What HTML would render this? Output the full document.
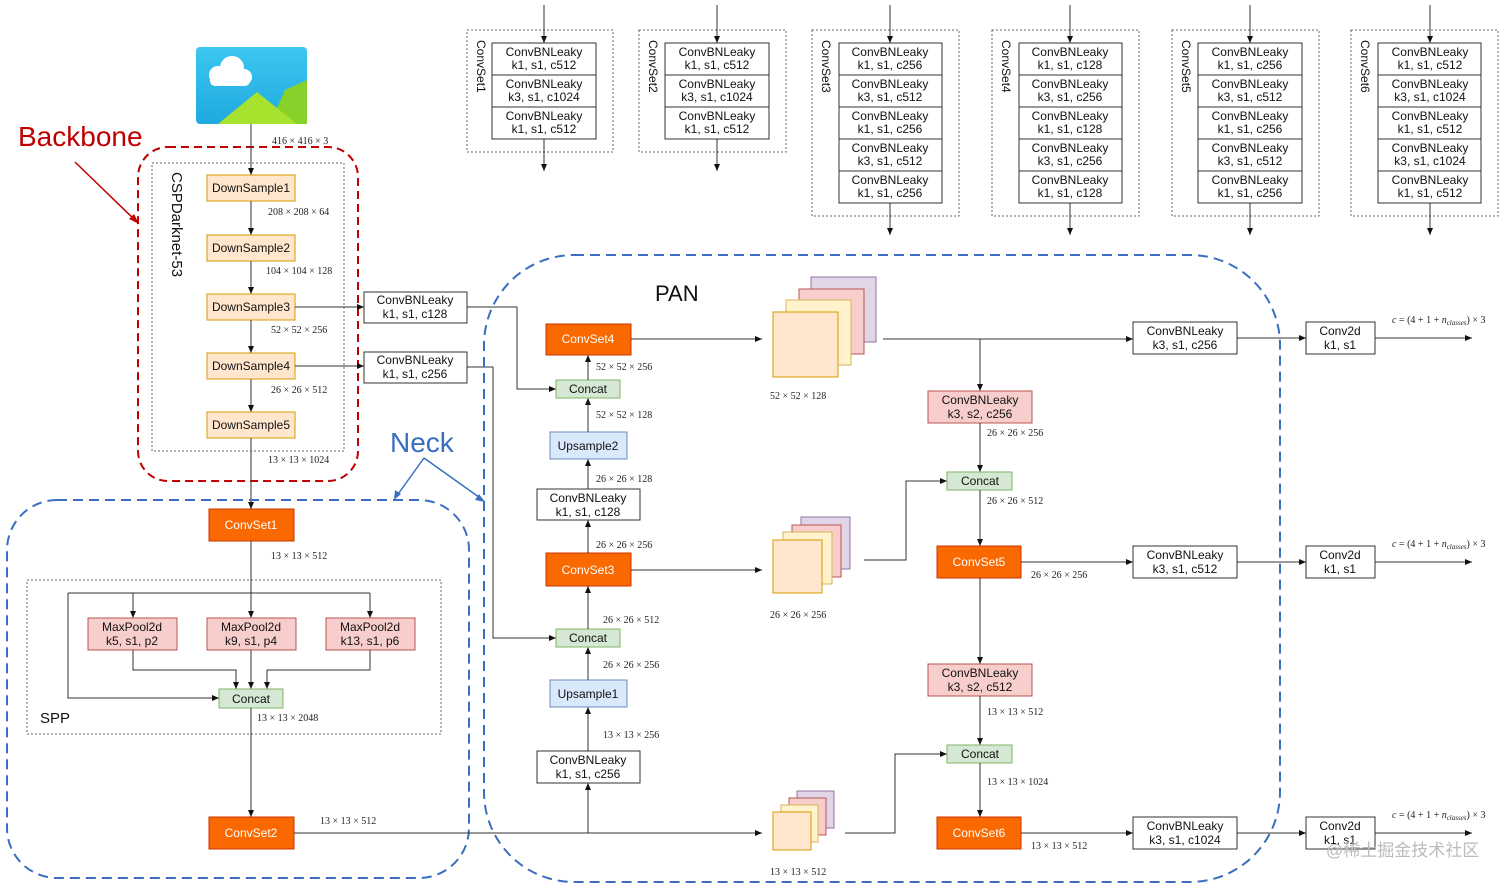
<!DOCTYPE html>
<html><head><meta charset="utf-8"><style>
html,body{margin:0;padding:0;background:#fff;}
svg{display:block;}
.t{font-family:"Liberation Sans",sans-serif;font-size:12px;fill:#111;text-anchor:middle;}
.w{font-family:"Liberation Sans",sans-serif;font-size:12px;fill:#fff;text-anchor:middle;}
.d{font-family:"Liberation Serif",serif;font-size:10px;fill:#222;}
.ln{stroke:#333;stroke-width:1;fill:none;}
.ds{fill:#ffe6cc;stroke:#d79b00;}
.cs{fill:#fa6800;stroke:#c73500;}
.mp{fill:#f8cecc;stroke:#b85450;}
.cc{fill:#d5e8d4;stroke:#82b366;}
.up{fill:#dae8fc;stroke:#6c8ebf;}
.bx{fill:#fff;stroke:#333;}
.dot{fill:none;stroke:#666;stroke-dasharray:2 2;}
</style></head><body>
<svg width="1512" height="884" viewBox="0 0 1512 884" xmlns="http://www.w3.org/2000/svg">
<defs>
<marker id="a" markerWidth="8" markerHeight="8" refX="7" refY="4" orient="auto" markerUnits="userSpaceOnUse"><path d="M0,1 L7,4 L0,7 z" fill="#111"/></marker>
<linearGradient id="sky" x1="0" y1="0" x2="0" y2="1"><stop offset="0" stop-color="#3cc8f0"/><stop offset="1" stop-color="#1fa9e0"/></linearGradient>
</defs>

<!-- image icon -->
<rect x="196" y="47" width="111" height="77" rx="4" fill="url(#sky)"/>
<path d="M270,124 L285,90 L307,80 L307,124 z" fill="#86d12a"/>
<path d="M218,124 L257,92 L297,124 z" fill="#a6e22e"/>
<circle cx="218" cy="75" r="9" fill="#fff"/><circle cx="232" cy="68" r="12" fill="#fff"/><circle cx="244" cy="77" r="8" fill="#fff"/>
<rect x="210" y="75" width="40" height="11" rx="5" fill="#fff"/>

<!-- Backbone -->
<text x="18" y="146" style="font-family:'Liberation Sans',sans-serif;font-size:28px;fill:#c00000">Backbone</text>
<line x1="75" y1="162" x2="137" y2="222" stroke="#c00000" stroke-width="1.5"/>
<path d="M139,224 L129,219 L134,214 z" fill="#c00000"/>
<rect x="138" y="147" width="220" height="334" rx="30" fill="none" stroke="#c00000" stroke-width="2" stroke-dasharray="8 5"/>
<rect x="152" y="163" width="192" height="288" class="dot"/>
<text transform="translate(172,172) rotate(90)" style="font-family:'Liberation Sans',sans-serif;font-size:15px;fill:#111">CSPDarknet-53</text>

<line x1="251" y1="124" x2="251" y2="175" class="ln" marker-end="url(#a)"/>
<text x="272" y="144" class="d">416 × 416 × 3</text>
<rect x="207" y="175" width="88" height="26" class="ds"/><text x="251" y="192" class="t">DownSample1</text>
<line x1="251" y1="201" x2="251" y2="235" class="ln" marker-end="url(#a)"/>
<text x="268" y="215" class="d">208 × 208 × 64</text>
<rect x="207" y="235" width="88" height="26" class="ds"/><text x="251" y="252" class="t">DownSample2</text>
<line x1="251" y1="261" x2="251" y2="294" class="ln" marker-end="url(#a)"/>
<text x="266" y="274" class="d">104 × 104 × 128</text>
<rect x="207" y="294" width="88" height="26" class="ds"/><text x="251" y="311" class="t">DownSample3</text>
<line x1="251" y1="320" x2="251" y2="353" class="ln" marker-end="url(#a)"/>
<text x="271" y="333" class="d">52 × 52 × 256</text>
<rect x="207" y="353" width="88" height="26" class="ds"/><text x="251" y="370" class="t">DownSample4</text>
<line x1="251" y1="379" x2="251" y2="412" class="ln" marker-end="url(#a)"/>
<text x="271" y="393" class="d">26 × 26 × 512</text>
<rect x="207" y="412" width="88" height="26" class="ds"/><text x="251" y="429" class="t">DownSample5</text>
<line x1="251" y1="438" x2="251" y2="509" class="ln" marker-end="url(#a)"/>
<text x="268" y="463" class="d">13 × 13 × 1024</text>

<line x1="295" y1="307" x2="364" y2="307" class="ln" marker-end="url(#a)"/>
<line x1="295" y1="366" x2="364" y2="366" class="ln" marker-end="url(#a)"/>
<rect x="364" y="292" width="103" height="31" class="bx"/><text x="415" y="304" class="t">ConvBNLeaky</text><text x="415" y="318" class="t">k1, s1, c128</text>
<rect x="364" y="352" width="103" height="31" class="bx"/><text x="415" y="364" class="t">ConvBNLeaky</text><text x="415" y="378" class="t">k1, s1, c256</text>
<polyline points="467,307 517,307 517,389 556,389" class="ln" marker-end="url(#a)"/>
<polyline points="467,367 493,367 493,638 556,638" class="ln" marker-end="url(#a)"/>

<!-- Neck -->
<text x="390" y="452" style="font-family:'Liberation Sans',sans-serif;font-size:28px;fill:#3a6fc0">Neck</text>
<line x1="424" y1="458" x2="396" y2="497" stroke="#3a6fc0" stroke-width="1.5"/>
<line x1="424" y1="458" x2="483" y2="500" stroke="#3a6fc0" stroke-width="1.5"/>
<path d="M394,500 L395,490 L401,494 z" fill="#3a6fc0"/>
<path d="M485,502 L475,500 L479,494 z" fill="#3a6fc0"/>
<rect x="7" y="500" width="462" height="378" rx="50" fill="none" stroke="#3a6fc0" stroke-width="2" stroke-dasharray="10 6"/>
<rect x="484" y="255" width="796" height="627" rx="90" fill="none" stroke="#3a6fc0" stroke-width="2" stroke-dasharray="10 6"/>
<text x="655" y="301" style="font-family:'Liberation Sans',sans-serif;font-size:22px;fill:#111">PAN</text>

<!-- SPP -->
<rect x="209" y="509" width="85" height="32" class="cs"/><text x="251" y="529" class="w">ConvSet1</text>
<text x="271" y="559" class="d">13 × 13 × 512</text>
<rect x="27" y="580" width="414" height="154" class="dot"/>
<text x="40" y="723" style="font-family:'Liberation Sans',sans-serif;font-size:15px;fill:#111">SPP</text>
<line x1="251" y1="541" x2="251" y2="618" class="ln" marker-end="url(#a)"/>
<polyline points="68,593 370,593" class="ln"/>
<line x1="133" y1="593" x2="133" y2="618" class="ln" marker-end="url(#a)"/>
<line x1="370" y1="593" x2="370" y2="618" class="ln" marker-end="url(#a)"/>
<polyline points="68,593 68,698 219,698" class="ln" marker-end="url(#a)"/>
<rect x="88" y="618" width="89" height="32" class="mp"/><text x="132" y="631" class="t">MaxPool2d</text><text x="132" y="645" class="t">k5, s1, p2</text>
<rect x="207" y="618" width="89" height="32" class="mp"/><text x="251" y="631" class="t">MaxPool2d</text><text x="251" y="645" class="t">k9, s1, p4</text>
<rect x="326" y="618" width="89" height="32" class="mp"/><text x="370" y="631" class="t">MaxPool2d</text><text x="370" y="645" class="t">k13, s1, p6</text>
<polyline points="133,650 133,670 236,670 236,689" class="ln" marker-end="url(#a)"/>
<polyline points="370,650 370,670 267,670 267,689" class="ln" marker-end="url(#a)"/>
<line x1="251" y1="650" x2="251" y2="689" class="ln" marker-end="url(#a)"/>
<rect x="219" y="689" width="64" height="19" class="cc"/><text x="251" y="703" class="t">Concat</text>
<text x="257" y="721" class="d">13 × 13 × 2048</text>
<line x1="251" y1="708" x2="251" y2="817" class="ln" marker-end="url(#a)"/>
<rect x="209" y="817" width="85" height="32" class="cs"/><text x="251" y="837" class="w">ConvSet2</text>
<text x="320" y="824" class="d">13 × 13 × 512</text>
<line x1="294" y1="833" x2="762" y2="833" class="ln" marker-end="url(#a)"/>

<!-- PAN column -->
<line x1="588" y1="833" x2="588" y2="783" class="ln" marker-end="url(#a)"/>
<rect x="537" y="751" width="103" height="32" class="bx"/><text x="588" y="764" class="t">ConvBNLeaky</text><text x="588" y="778" class="t">k1, s1, c256</text>
<text x="603" y="738" class="d">13 × 13 × 256</text>
<line x1="588" y1="751" x2="588" y2="707" class="ln" marker-end="url(#a)"/>
<rect x="550" y="680" width="77" height="27" class="up"/><text x="588" y="698" class="t">Upsample1</text>
<text x="603" y="668" class="d">26 × 26 × 256</text>
<line x1="588" y1="680" x2="588" y2="647" class="ln" marker-end="url(#a)"/>
<rect x="556" y="629" width="64" height="18" class="cc"/><text x="588" y="642" class="t">Concat</text>
<text x="603" y="623" class="d">26 × 26 × 512</text>
<line x1="588" y1="629" x2="588" y2="586" class="ln" marker-end="url(#a)"/>
<rect x="546" y="553" width="85" height="33" class="cs"/><text x="588" y="574" class="w">ConvSet3</text>
<line x1="631" y1="570" x2="762" y2="570" class="ln" marker-end="url(#a)"/>
<text x="596" y="548" class="d">26 × 26 × 256</text>
<line x1="588" y1="553" x2="588" y2="520" class="ln" marker-end="url(#a)"/>
<rect x="537" y="489" width="103" height="31" class="bx"/><text x="588" y="502" class="t">ConvBNLeaky</text><text x="588" y="516" class="t">k1, s1, c128</text>
<text x="596" y="482" class="d">26 × 26 × 128</text>
<line x1="588" y1="489" x2="588" y2="459" class="ln" marker-end="url(#a)"/>
<rect x="550" y="432" width="77" height="27" class="up"/><text x="588" y="450" class="t">Upsample2</text>
<text x="596" y="418" class="d">52 × 52 × 128</text>
<line x1="588" y1="432" x2="588" y2="398" class="ln" marker-end="url(#a)"/>
<rect x="556" y="380" width="64" height="18" class="cc"/><text x="588" y="393" class="t">Concat</text>
<text x="596" y="370" class="d">52 × 52 × 256</text>
<line x1="588" y1="380" x2="588" y2="355" class="ln" marker-end="url(#a)"/>
<rect x="546" y="324" width="85" height="31" class="cs"/><text x="588" y="343" class="w">ConvSet4</text>
<line x1="631" y1="339" x2="762" y2="339" class="ln" marker-end="url(#a)"/>

<!-- feature stacks -->
<g stroke-width="1">
<rect x="811" y="277" width="65" height="65" fill="#e1d5e7" stroke="#9673a6"/>
<rect x="799" y="289" width="65" height="65" fill="#f8cecc" stroke="#b85450"/>
<rect x="786" y="300" width="65" height="65" fill="#fff2cc" stroke="#d6b656"/>
<rect x="773" y="312" width="65" height="65" fill="#ffe6cc" stroke="#d79b00"/>
<rect x="801" y="517" width="49" height="52" fill="#e1d5e7" stroke="#9673a6"/>
<rect x="792" y="525" width="49" height="52" fill="#f8cecc" stroke="#b85450"/>
<rect x="783" y="532" width="49" height="52" fill="#fff2cc" stroke="#d6b656"/>
<rect x="773" y="540" width="49" height="53" fill="#ffe6cc" stroke="#d79b00"/>
<rect x="797" y="791" width="37" height="37" fill="#e1d5e7" stroke="#9673a6"/>
<rect x="789" y="798" width="37" height="37" fill="#f8cecc" stroke="#b85450"/>
<rect x="781" y="805" width="37" height="37" fill="#fff2cc" stroke="#d6b656"/>
<rect x="773" y="812" width="38" height="38" fill="#ffe6cc" stroke="#d79b00"/>
</g>
<text x="770" y="399" class="d">52 × 52 × 128</text>
<text x="770" y="618" class="d">26 × 26 × 256</text>
<text x="770" y="875" class="d">13 × 13 × 512</text>

<!-- right PAN column -->
<line x1="883" y1="339" x2="1133" y2="339" class="ln" marker-end="url(#a)"/>
<line x1="980" y1="339" x2="980" y2="391" class="ln" marker-end="url(#a)"/>
<rect x="928" y="391" width="104" height="32" class="mp"/><text x="980" y="404" class="t">ConvBNLeaky</text><text x="980" y="418" class="t">k3, s2, c256</text>
<text x="987" y="436" class="d">26 × 26 × 256</text>
<line x1="980" y1="423" x2="980" y2="472" class="ln" marker-end="url(#a)"/>
<polyline points="864,560 906,560 906,481 947,481" class="ln" marker-end="url(#a)"/>
<rect x="947" y="472" width="65" height="18" class="cc"/><text x="980" y="485" class="t">Concat</text>
<text x="987" y="504" class="d">26 × 26 × 512</text>
<line x1="980" y1="490" x2="980" y2="546" class="ln" marker-end="url(#a)"/>
<rect x="937" y="546" width="84" height="32" class="cs"/><text x="979" y="566" class="w">ConvSet5</text>
<line x1="1021" y1="562" x2="1133" y2="562" class="ln" marker-end="url(#a)"/>
<text x="1031" y="578" class="d">26 × 26 × 256</text>
<line x1="980" y1="578" x2="980" y2="664" class="ln" marker-end="url(#a)"/>
<rect x="928" y="664" width="104" height="32" class="mp"/><text x="980" y="677" class="t">ConvBNLeaky</text><text x="980" y="691" class="t">k3, s2, c512</text>
<text x="987" y="715" class="d">13 × 13 × 512</text>
<line x1="980" y1="696" x2="980" y2="745" class="ln" marker-end="url(#a)"/>
<polyline points="845,833 895,833 895,754 947,754" class="ln" marker-end="url(#a)"/>
<rect x="947" y="745" width="65" height="18" class="cc"/><text x="980" y="758" class="t">Concat</text>
<text x="987" y="785" class="d">13 × 13 × 1024</text>
<line x1="980" y1="763" x2="980" y2="817" class="ln" marker-end="url(#a)"/>
<rect x="937" y="817" width="84" height="32" class="cs"/><text x="979" y="837" class="w">ConvSet6</text>
<line x1="1021" y1="833" x2="1133" y2="833" class="ln" marker-end="url(#a)"/>
<text x="1031" y="849" class="d">13 × 13 × 512</text>

<!-- heads -->
<g>
<rect x="1133" y="322" width="104" height="32" class="bx"/><text x="1185" y="335" class="t">ConvBNLeaky</text><text x="1185" y="349" class="t">k3, s1, c256</text>
<rect x="1133" y="546" width="104" height="32" class="bx"/><text x="1185" y="559" class="t">ConvBNLeaky</text><text x="1185" y="573" class="t">k3, s1, c512</text>
<rect x="1133" y="817" width="104" height="32" class="bx"/><text x="1185" y="830" class="t">ConvBNLeaky</text><text x="1185" y="844" class="t">k3, s1, c1024</text>
<line x1="1237" y1="338" x2="1306" y2="338" class="ln" marker-end="url(#a)"/>
<line x1="1237" y1="562" x2="1306" y2="562" class="ln" marker-end="url(#a)"/>
<line x1="1237" y1="833" x2="1306" y2="833" class="ln" marker-end="url(#a)"/>
<rect x="1306" y="322" width="69" height="32" class="bx"/><text x="1340" y="335" class="t">Conv2d</text><text x="1340" y="349" class="t">k1, s1</text>
<rect x="1306" y="546" width="69" height="32" class="bx"/><text x="1340" y="559" class="t">Conv2d</text><text x="1340" y="573" class="t">k1, s1</text>
<rect x="1306" y="817" width="69" height="32" class="bx"/><text x="1340" y="830" class="t">Conv2d</text><text x="1340" y="844" class="t">k1, s1</text>
<line x1="1375" y1="338" x2="1472" y2="338" class="ln" marker-end="url(#a)"/>
<line x1="1375" y1="562" x2="1472" y2="562" class="ln" marker-end="url(#a)"/>
<line x1="1375" y1="833" x2="1472" y2="833" class="ln" marker-end="url(#a)"/>
<text x="1392" y="323" class="d"><tspan font-style="italic">c</tspan> = (4 + 1 + <tspan font-style="italic">n</tspan><tspan font-size="7" dy="2" font-style="italic">classes</tspan><tspan dy="-2">) × 3</tspan></text>
<text x="1392" y="547" class="d"><tspan font-style="italic">c</tspan> = (4 + 1 + <tspan font-style="italic">n</tspan><tspan font-size="7" dy="2" font-style="italic">classes</tspan><tspan dy="-2">) × 3</tspan></text>
<text x="1392" y="818" class="d"><tspan font-style="italic">c</tspan> = (4 + 1 + <tspan font-style="italic">n</tspan><tspan font-size="7" dy="2" font-style="italic">classes</tspan><tspan dy="-2">) × 3</tspan></text>
</g>

<!-- top ConvSets -->
<g>
<!-- CS1 -->
<rect x="467" y="30" width="146" height="122" class="dot"/>
<text transform="translate(477,40) rotate(90)" style="font-family:'Liberation Sans',sans-serif;font-size:12px;fill:#111">ConvSet1</text>
<line x1="544" y1="5" x2="544" y2="43" class="ln" marker-end="url(#a)"/>
<rect x="492" y="43" width="104" height="96" class="bx"/>
<line x1="492" y1="75" x2="596" y2="75" class="ln"/><line x1="492" y1="107" x2="596" y2="107" class="ln"/>
<text x="544" y="56" class="t">ConvBNLeaky</text><text x="544" y="69" class="t">k1, s1, c512</text>
<text x="544" y="88" class="t">ConvBNLeaky</text><text x="544" y="101" class="t">k3, s1, c1024</text>
<text x="544" y="120" class="t">ConvBNLeaky</text><text x="544" y="133" class="t">k1, s1, c512</text>
<line x1="544" y1="139" x2="544" y2="171" class="ln" marker-end="url(#a)"/>
<!-- CS2 -->
<rect x="639" y="30" width="147" height="122" class="dot"/>
<text transform="translate(649,40) rotate(90)" style="font-family:'Liberation Sans',sans-serif;font-size:12px;fill:#111">ConvSet2</text>
<line x1="717" y1="5" x2="717" y2="43" class="ln" marker-end="url(#a)"/>
<rect x="665" y="43" width="104" height="96" class="bx"/>
<line x1="665" y1="75" x2="769" y2="75" class="ln"/><line x1="665" y1="107" x2="769" y2="107" class="ln"/>
<text x="717" y="56" class="t">ConvBNLeaky</text><text x="717" y="69" class="t">k1, s1, c512</text>
<text x="717" y="88" class="t">ConvBNLeaky</text><text x="717" y="101" class="t">k3, s1, c1024</text>
<text x="717" y="120" class="t">ConvBNLeaky</text><text x="717" y="133" class="t">k1, s1, c512</text>
<line x1="717" y1="139" x2="717" y2="171" class="ln" marker-end="url(#a)"/>
<!-- CS3 -->
<rect x="812" y="30" width="147" height="186" class="dot"/>
<text transform="translate(822,40) rotate(90)" style="font-family:'Liberation Sans',sans-serif;font-size:12px;fill:#111">ConvSet3</text>
<line x1="890" y1="5" x2="890" y2="43" class="ln" marker-end="url(#a)"/>
<rect x="839" y="43" width="103" height="160" class="bx"/>
<line x1="839" y1="75" x2="942" y2="75" class="ln"/><line x1="839" y1="107" x2="942" y2="107" class="ln"/><line x1="839" y1="139" x2="942" y2="139" class="ln"/><line x1="839" y1="171" x2="942" y2="171" class="ln"/>
<text x="890" y="56" class="t">ConvBNLeaky</text><text x="890" y="69" class="t">k1, s1, c256</text>
<text x="890" y="88" class="t">ConvBNLeaky</text><text x="890" y="101" class="t">k3, s1, c512</text>
<text x="890" y="120" class="t">ConvBNLeaky</text><text x="890" y="133" class="t">k1, s1, c256</text>
<text x="890" y="152" class="t">ConvBNLeaky</text><text x="890" y="165" class="t">k3, s1, c512</text>
<text x="890" y="184" class="t">ConvBNLeaky</text><text x="890" y="197" class="t">k1, s1, c256</text>
<line x1="890" y1="203" x2="890" y2="235" class="ln" marker-end="url(#a)"/>
<!-- CS4 -->
<rect x="992" y="30" width="147" height="186" class="dot"/>
<text transform="translate(1002,40) rotate(90)" style="font-family:'Liberation Sans',sans-serif;font-size:12px;fill:#111">ConvSet4</text>
<line x1="1070" y1="5" x2="1070" y2="43" class="ln" marker-end="url(#a)"/>
<rect x="1019" y="43" width="103" height="160" class="bx"/>
<line x1="1019" y1="75" x2="1122" y2="75" class="ln"/><line x1="1019" y1="107" x2="1122" y2="107" class="ln"/><line x1="1019" y1="139" x2="1122" y2="139" class="ln"/><line x1="1019" y1="171" x2="1122" y2="171" class="ln"/>
<text x="1070" y="56" class="t">ConvBNLeaky</text><text x="1070" y="69" class="t">k1, s1, c128</text>
<text x="1070" y="88" class="t">ConvBNLeaky</text><text x="1070" y="101" class="t">k3, s1, c256</text>
<text x="1070" y="120" class="t">ConvBNLeaky</text><text x="1070" y="133" class="t">k1, s1, c128</text>
<text x="1070" y="152" class="t">ConvBNLeaky</text><text x="1070" y="165" class="t">k3, s1, c256</text>
<text x="1070" y="184" class="t">ConvBNLeaky</text><text x="1070" y="197" class="t">k1, s1, c128</text>
<line x1="1070" y1="203" x2="1070" y2="235" class="ln" marker-end="url(#a)"/>
<!-- CS5 -->
<rect x="1172" y="30" width="147" height="186" class="dot"/>
<text transform="translate(1182,40) rotate(90)" style="font-family:'Liberation Sans',sans-serif;font-size:12px;fill:#111">ConvSet5</text>
<line x1="1250" y1="5" x2="1250" y2="43" class="ln" marker-end="url(#a)"/>
<rect x="1198" y="43" width="104" height="160" class="bx"/>
<line x1="1198" y1="75" x2="1302" y2="75" class="ln"/><line x1="1198" y1="107" x2="1302" y2="107" class="ln"/><line x1="1198" y1="139" x2="1302" y2="139" class="ln"/><line x1="1198" y1="171" x2="1302" y2="171" class="ln"/>
<text x="1250" y="56" class="t">ConvBNLeaky</text><text x="1250" y="69" class="t">k1, s1, c256</text>
<text x="1250" y="88" class="t">ConvBNLeaky</text><text x="1250" y="101" class="t">k3, s1, c512</text>
<text x="1250" y="120" class="t">ConvBNLeaky</text><text x="1250" y="133" class="t">k1, s1, c256</text>
<text x="1250" y="152" class="t">ConvBNLeaky</text><text x="1250" y="165" class="t">k3, s1, c512</text>
<text x="1250" y="184" class="t">ConvBNLeaky</text><text x="1250" y="197" class="t">k1, s1, c256</text>
<line x1="1250" y1="203" x2="1250" y2="235" class="ln" marker-end="url(#a)"/>
<!-- CS6 -->
<rect x="1351" y="30" width="147" height="186" class="dot"/>
<text transform="translate(1361,40) rotate(90)" style="font-family:'Liberation Sans',sans-serif;font-size:12px;fill:#111">ConvSet6</text>
<line x1="1430" y1="5" x2="1430" y2="43" class="ln" marker-end="url(#a)"/>
<rect x="1378" y="43" width="103" height="160" class="bx"/>
<line x1="1378" y1="75" x2="1481" y2="75" class="ln"/><line x1="1378" y1="107" x2="1481" y2="107" class="ln"/><line x1="1378" y1="139" x2="1481" y2="139" class="ln"/><line x1="1378" y1="171" x2="1481" y2="171" class="ln"/>
<text x="1430" y="56" class="t">ConvBNLeaky</text><text x="1430" y="69" class="t">k1, s1, c512</text>
<text x="1430" y="88" class="t">ConvBNLeaky</text><text x="1430" y="101" class="t">k3, s1, c1024</text>
<text x="1430" y="120" class="t">ConvBNLeaky</text><text x="1430" y="133" class="t">k1, s1, c512</text>
<text x="1430" y="152" class="t">ConvBNLeaky</text><text x="1430" y="165" class="t">k3, s1, c1024</text>
<text x="1430" y="184" class="t">ConvBNLeaky</text><text x="1430" y="197" class="t">k1, s1, c512</text>
<line x1="1430" y1="203" x2="1430" y2="235" class="ln" marker-end="url(#a)"/>
</g>

<text x="1326" y="856" style="font-family:'Liberation Sans','Noto Sans CJK SC',sans-serif;font-size:17px;fill:#bbb">@稀土掘金技术社区</text>
</svg>
</body></html>
